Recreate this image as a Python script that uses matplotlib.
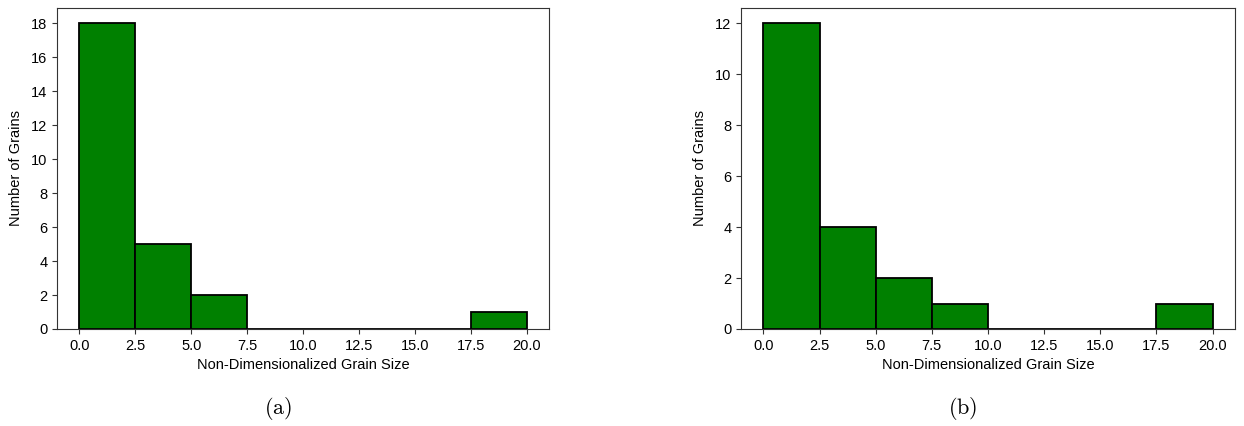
import matplotlib.pyplot as plt
import numpy as np

plt.rcParams['font.family'] = ['Liberation Sans', 'DejaVu Sans']
plt.rcParams['mathtext.fontset'] = 'cm'

bin_edges = [0, 2.5, 5, 7.5, 10, 12.5, 15, 17.5, 20]
counts_a = [18, 5, 2, 0, 0, 0, 0, 1]
counts_b = [12, 4, 2, 1, 0, 0, 0, 1]
yticks_a = [0, 2, 4, 6, 8, 10, 12, 14, 16, 18]
yticks_b = [0, 2, 4, 6, 8, 10, 12]
captions = ['(a)', '(b)']

fig = plt.figure(figsize=(12.44, 4.26), dpi=100)
ax1 = fig.add_axes([57/1244, 1-329/426, 492/1244, 321/426])
ax2 = fig.add_axes([741/1244, 1-329/426, 494/1244, 321/426])

centers = (np.array(bin_edges[:-1]) + np.array(bin_edges[1:])) / 2
for ax, counts, yt in zip([ax1, ax2], [counts_a, counts_b], [yticks_a, yticks_b]):
    ax.hist(centers, bins=bin_edges, weights=counts, color='green',
            edgecolor='black', linewidth=1.3)
    ax.set_xticks(np.arange(0, 20.1, 2.5))
    ax.set_yticks(yt)
    ax.set_xlabel('Non-Dimensionalized Grain Size', fontsize=10.5, labelpad=4)
    ax.set_ylabel('Number of Grains', fontsize=10.5, labelpad=6)
    ax.tick_params(labelsize=10.5, color='#333333')
    for s in ax.spines.values():
        s.set_color('#333333')

fig.text(278/1244, 1-408/426, r'$\mathrm{(a)}$', fontsize=16, ha='center', va='center')
fig.text(963/1244, 1-408/426, r'$\mathrm{(b)}$', fontsize=16, ha='center', va='center')

fig.savefig('out.png', dpi=100)
